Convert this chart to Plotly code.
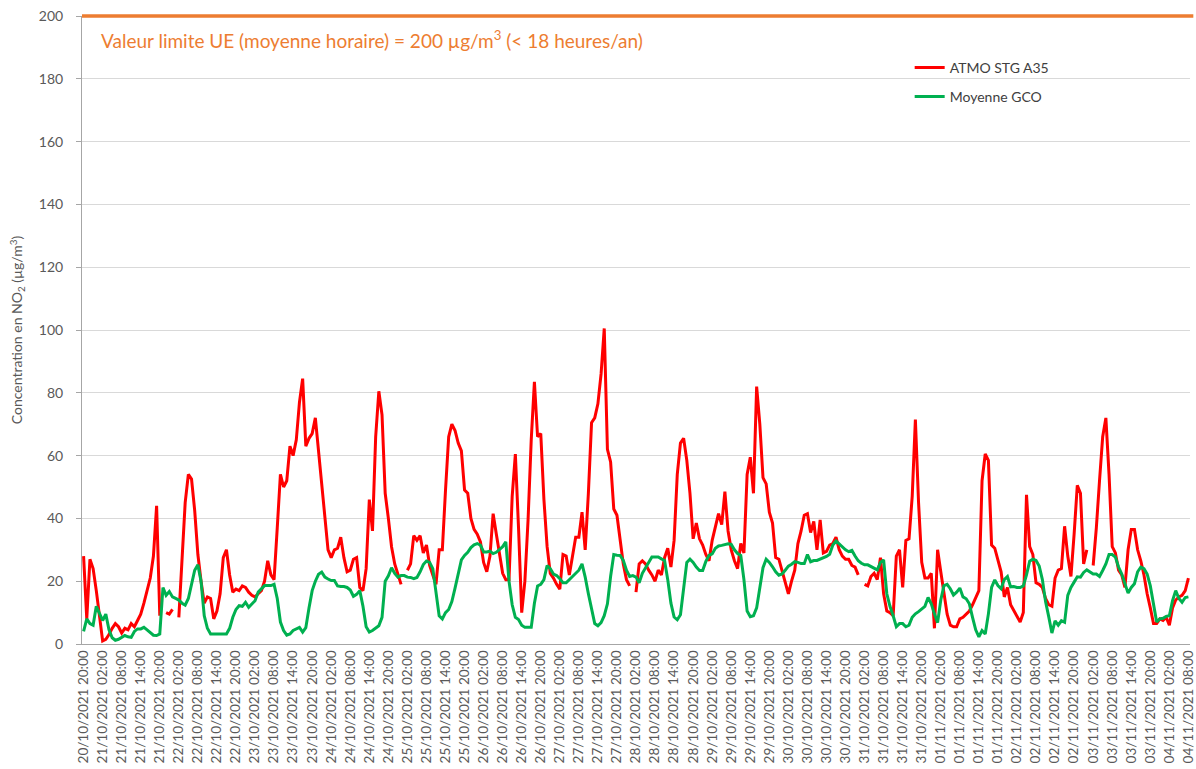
import pandas as pd
import plotly.graph_objects as go

# ---------------- data (hourly, from 20/10/2021 20:00) ----------------
start_time = "2021-10-20 20:00"

atmo_stg_a35 = [
    28, 8, 27, 24, 17, 8, 1, 1.5, 3, 5, 6.5, 5.5,
    3.5, 5, 4.5, 6.5, 5.5, 7.5, 9.5, 13, 17, 21, 28, 44,
    9, None, 10, 9.5, 11, None, 8.5, 25, 45, 54, 52.5, 42.5,
    28.5, 20, 13, 15, 14.5, 8, 10.5, 16, 27.5, 30, 22, 16.5,
    17.5, 17, 18.5, 18, 16.5, 15.5, 15, 16, 17, 20, 26.5, 22,
    20.5, 37, 54, 50, 52, 63, 60, 65, 77, 84.5, 63, 65.5,
    67, 72, 60.5, 51, 40.5, 30, 27.5, 30, 30.5, 34, 27.5, 23,
    23.5, 27, 27.5, 18, 17, 24, 46, 36, 66, 80.5, 73, 48,
    40, 31, 25.5, 22, 19, None, 23.5, 25.5, 34.5, 33, 34.5, 29,
    31.5, 25, 22, 19, 30, 30, 49, 66, 70, 68, 64, 61.5,
    49, 48, 40, 36.5, 35, 32.5, 26, 23, 28, 41.5, 35, 29,
    22.5, 20.5, 20.5, 47, 60.5, 37, 10, 20, 39.5, 65, 83.5, 66,
    67, 46, 31, 22.5, 21, 19, 17.5, 28.5, 28, 22, 28.5, 34,
    34, 42, 30, 48, 70.5, 72, 76.5, 86, 100.5, 62, 58, 43,
    41, 33, 25.5, 20.5, 18.5, None, 16.5, 25.5, 26.5, 25.5, 23.5, 22,
    20, 23.5, 22, 27.5, 30.5, 24.5, 33, 54, 64, 65.5, 58.5, 48,
    33.5, 38.5, 33.5, 31.5, 28.5, 26.5, 33, 37, 41.5, 38, 48.5, 36,
    30, 26.5, 24, 32, 29, 54, 59.5, 48, 82, 70, 53, 51,
    42, 38.5, 27.5, 27, 23.5, 20, 16, 20, 23.5, 32, 36, 41,
    41.5, 35.5, 39, 30, 39.5, 29, 29.5, 31.5, 32, 34, 30, 28,
    27, 27, 25, 24.5, 22, None, 19, 18.5, 21.5, 22.5, 20.5, 27.5,
    16, 10.5, 10, 9, 28, 30, 18, 33, 33.5, 47, 71.5, 45,
    26, 21, 21, 22.5, 5, 30, 23, 16, 9.5, 6, 5.5, 5.5,
    8, 8.5, 9.5, 10.5, 12.5, 14.5, 17, 52, 60.5, 58.5, 31.5, 30.5,
    27, 23, 15, 18, 12.5, 10.5, 9, 7, 10, 47.5, 31, 28.5,
    19.5, 19, 18, 14.5, 12.5, 12, 21, 23.5, 24, 37.5, 28, 21.5,
    35, 50.5, 48, 25.5, 30, None, 25, 37, 52, 66, 72, 54,
    31, 29, 23.5, 22, 18, 30, 36.5, 36.5, 30, 26.5, 22, 16,
    11.5, 6.5, 6.5, 8, 7.5, 8.5, 6, 11.5, 14, 15, 15.5, 17,
    21,
]

moyenne_gco = [
    4, 8, 6.5, 6, 12, 10, 7.5, 9.5, 4.5, 2, 1.2, 1.5,
    2, 2.7, 2.3, 2.1, 4, 4.8, 4.8, 5.3, 4.5, 3.5, 2.8, 2.7,
    3.2, 18, 15.5, 16.7, 15, 14.5, 14, 13, 12.4, 14.5, 19.5, 23.5,
    25.2, 20, 9, 5, 3.2, 3.2, 3.4, 3.4, 3.2, 3.2, 5, 8.5,
    11, 12.2, 12, 13.3, 11.7, 12.8, 13.8, 16.5, 17.6, 18.6, 18.6, 18.6,
    19, 14.5, 7, 4.3, 2.8, 3.2, 4.3, 4.8, 5.3, 3.8, 5.2, 11.5,
    17, 20, 22.2, 22.9, 21.3, 20.7, 20.2, 20.2, 18.5, 18.3, 18.3, 18,
    17.2, 15.2, 15.8, 17, 12, 5.5, 3.8, 4.3, 5.2, 5.8, 8.5, 20,
    21.7, 24.3, 22.5, 21.3, 21.8, 21.8, 21.3, 21.2, 20.8, 21.2, 23, 25.3,
    26.4, 26, 24, 17, 9, 8, 10, 11, 13.5, 17.8, 22, 26.8,
    28.2, 29.2, 30.7, 31.6, 32, 31.5, 29.3, 29.3, 29.6, 28.8, 29.2, 30,
    31, 32.5, 20, 12.5, 8.5, 7.8, 6, 5.3, 5.3, 5.3, 13, 18.5,
    19, 20.5, 25, 24, 22.3, 21.8, 20.8, 19.5, 19.5, 20.5, 21.5, 22.3,
    23.5, 25.5, 21.3, 16, 11, 6.5, 5.8, 6.8, 9, 12.8, 21.5, 28.5,
    28.3, 28.2, 26.6, 23.5, 21.5, 21.8, 21.3, 19.5, 22.5, 24.3, 26, 27.7,
    27.7, 27.7, 27.1, 26.6, 20.5, 13, 8.6, 7.7, 9.3, 18, 26, 27,
    26, 24.5, 23.4, 23.4, 26.3, 28.2, 28.7, 30.5, 31.2, 31.4, 31.7, 31.9,
    31.7, 30, 28.8, 28.2, 20.5, 10.5, 8.7, 9, 11.5, 18.5, 24.3, 27,
    26, 24.6, 23, 21.9, 22.3, 23.5, 24.8, 25.4, 26.2, 26, 25.6, 25.6,
    28.5, 26.2, 26.6, 26.6, 27, 27.4, 27.9, 28.6, 31.5, 32.8, 31.8, 31,
    30, 29.4, 29.8, 28, 26.5, 25.7, 25.2, 25.2, 24.6, 24, 23.6, 26,
    26.8, 16, 12, 9, 5.5, 6.5, 6.5, 5.5, 6, 8.5, 9.6, 10.3,
    11.2, 12, 14.8, 12.8, 9.6, 6.8, 14, 18.6, 19, 17.6, 15.6, 16.5,
    17.8, 15, 14.4, 12.8, 8.5, 4.5, 2.3, 4.3, 3.2, 9.6, 18, 20.4,
    18.6, 17.6, 20.5, 21.5, 18.2, 18.3, 18, 18, 18.5, 22, 26.4, 27,
    26.6, 24.8, 20.5, 13.5, 8.7, 3.5, 7.4, 6, 7.4, 6.9, 15.5, 18,
    19.7, 21.4, 21.3, 22.8, 23.6, 22.9, 22.3, 22.3, 21.5, 23.4, 25.5, 28.5,
    28.5, 27.7, 24.5, 22.3, 19.5, 16.2, 18, 19.2, 23, 24.5, 24, 22.3,
    18.5, 12, 7, 8, 8.2, 8.8, 9, 13.8, 17, 14.5, 13.3, 14.8,
    15,
]

limit_value = 200
y_ticks = list(range(0, 201, 20))

times = pd.date_range(start_time, periods=len(atmo_stg_a35), freq="h")
categories = [t.strftime("%d/%m/%Y %H:%M") for t in times]
tick_labels = categories[::6]

# ---------------- figure ----------------
FONT = "Lato, 'Open Sans', sans-serif"
GRAY = "#595959"

fig = go.Figure()
fig.add_trace(go.Scatter(
    x=categories, y=atmo_stg_a35, mode="lines", name="ATMO STG A35",
    line=dict(color="#ff0000", width=3), legendgroup="g1",
))
fig.add_trace(go.Scatter(
    x=categories, y=moyenne_gco, mode="lines", name="Moyenne GCO",
    line=dict(color="#00b050", width=3), legendgroup="g2",
))

# EU hourly limit line (top of the value axis)
fig.add_shape(type="line", xref="paper", x0=0, x1=1.003,
              yref="y domain", y0=1, y1=1,
              line=dict(color="#ed7d31", width=3.5), layer="above")

fig.add_annotation(
    xref="paper", yref="paper", x=0.015, y=0.962, xanchor="left", yanchor="middle",
    text="Valeur limite UE (moyenne horaire) = 200 µg/m<sup>3</sup> (&lt; 18 heures/an)",
    showarrow=False, font=dict(family=FONT, size=19, color="#ed7d31"),
)

fig.update_layout(
    width=1196, height=769,
    margin=dict(l=82, r=6, t=16, b=125),
    paper_bgcolor="white", plot_bgcolor="white",
    font=dict(family=FONT, color=GRAY),
    showlegend=True,
    legend=dict(
        x=0.747, y=0.943, xanchor="left", yanchor="top",
        font=dict(family=FONT, size=14, color="#404040"),
        bgcolor="rgba(0,0,0,0)", traceorder="grouped", tracegroupgap=8,
    ),
)

fig.update_xaxes(
    type="category", range=[-0.5, len(categories) - 0.5],
    tickmode="array", tickvals=tick_labels, ticktext=tick_labels,
    tickangle=-90, tickfont=dict(family=FONT, size=13.5, color=GRAY),
    showgrid=False, showline=True, linecolor="#a6a6a6", linewidth=1,
    ticks="", automargin=False,
)
fig.update_yaxes(
    range=[0, limit_value], tickmode="array", tickvals=y_ticks,
    tickfont=dict(family=FONT, size=14, color=GRAY),
    showgrid=True, gridcolor="#d9d9d9", gridwidth=1, zeroline=False,
    showline=True, linecolor="#a6a6a6", linewidth=1,
    ticks="outside", ticklen=5, tickcolor="#a6a6a6", ticklabelstandoff=10,
    title=dict(text="Concentration en NO<sub>2</sub> (µg/m<sup>3</sup>)",
               font=dict(family=FONT, size=14, color=GRAY), standoff=12),
    automargin=False,
)

fig.write_html("out.html",
               config={"displayModeBar": False},
               post_script="document.body.style.margin='0';document.body.style.overflow='hidden';")
